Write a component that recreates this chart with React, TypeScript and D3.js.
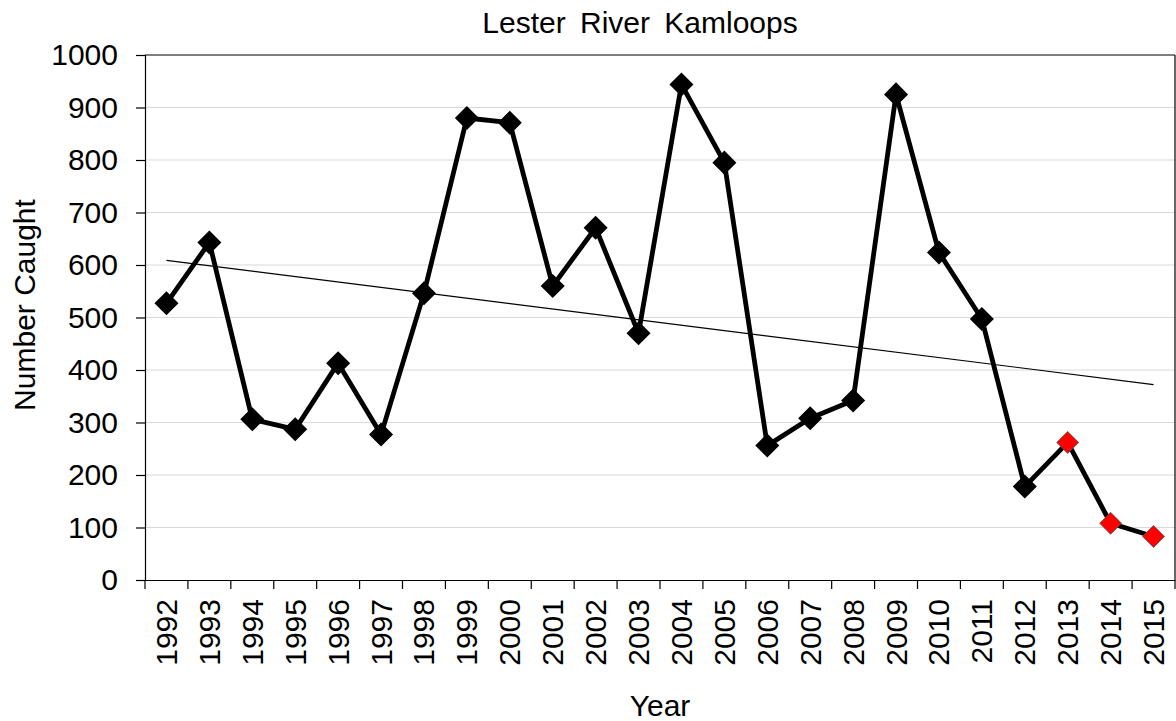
import React, { useEffect, useRef } from "react";
import * as d3 from "d3";

const years: string[] = ["1992","1993","1994","1995","1996","1997","1998","1999","2000","2001","2002","2003","2004","2005","2006","2007","2008","2009","2010","2011","2012","2013","2014","2015"];
const caught: number[] = [527,643,306,287,413,277,546,880,871,560,671,470,944,795,256,308,342,925,624,497,178,262,108,83];
const highlighted: string[] = ["2013","2014","2015"];
const yTicks: number[] = [0,100,200,300,400,500,600,700,800,900,1000];
const title = "Lester River Kamloops";
const xTitle = "Year";
const yTitle = "Number Caught";

const W = 1176, H = 721;
const M = { left: 145, right: 1, top: 55, bottom: 141 };
const FONT = "'Liberation Sans', Arial, sans-serif";
const FS = 30;

export default function App() {
  const ref = useRef<SVGSVGElement>(null);
  useEffect(() => {
    const svg = d3.select(ref.current);
    svg.selectAll("*").remove();
    const x = d3.scaleBand<string>().domain(years).range([M.left, W - M.right]);
    const y = d3.scaleLinear().domain([0, 1000]).range([H - M.bottom, M.top]);
    const cx = (yr: string) => (x(yr) as number) + x.bandwidth() / 2;

    // gridlines
    svg.append("g").selectAll("line").data(yTicks.filter(t => t > 0 && t < 1000)).join("line")
      .attr("x1", M.left).attr("x2", W - M.right)
      .attr("y1", d => y(d)).attr("y2", d => y(d))
      .attr("stroke", "#d9d9d9").attr("stroke-width", 1.2);

    // border top/right
    svg.append("line").attr("x1", M.left).attr("x2", W - M.right).attr("y1", y(1000)).attr("y2", y(1000))
      .attr("stroke", "#000").attr("stroke-width", 1.2);
    svg.append("line").attr("x1", W - M.right).attr("x2", W - M.right).attr("y1", y(1000)).attr("y2", y(0))
      .attr("stroke", "#000").attr("stroke-width", 1.2);

    // y axis
    const yAxis = svg.append("g").attr("transform", `translate(${M.left},0)`)
      .call(d3.axisLeft(y).tickValues(yTicks).tickSize(9).tickPadding(18).tickFormat(d3.format("d")));
    yAxis.select(".domain").attr("stroke", "#000").attr("stroke-width", 1.2);
    yAxis.selectAll(".tick line").attr("stroke", "#000").attr("stroke-width", 1.2);
    yAxis.selectAll(".tick text").attr("font-family", FONT).attr("font-size", FS).attr("fill", "#000");

    // x axis
    const xAxis = svg.append("g").attr("transform", `translate(0,${y(0)})`)
      .call(d3.axisBottom(x).tickSize(0).tickSizeOuter(0));
    xAxis.select(".domain").attr("stroke", "#000").attr("stroke-width", 1.2);
    xAxis.selectAll(".tick text").attr("font-family", FONT).attr("font-size", FS).attr("fill", "#000")
      .attr("text-anchor", "end").attr("dy", "0.35em")
      .attr("transform", "translate(0,19) rotate(-90)").attr("x", 0).attr("y", 0);
    // x tick marks at band boundaries
    const bounds = years.map(yr => x(yr) as number).concat([W - M.right]);
    svg.append("g").selectAll("line").data(bounds).join("line")
      .attr("x1", d => d).attr("x2", d => d).attr("y1", y(0)).attr("y2", y(0) + 9)
      .attr("stroke", "#000").attr("stroke-width", 1.2);

    // trendline (least squares)
    const idx = caught.map((_, i) => i);
    const mx = d3.mean(idx) as number, my = d3.mean(caught) as number;
    const slope = d3.sum(idx, i => (i - mx) * (caught[i] - my)) / d3.sum(idx, i => (i - mx) ** 2);
    const icpt = my - slope * mx;
    svg.append("line")
      .attr("x1", cx(years[0])).attr("y1", y(icpt))
      .attr("x2", cx(years[years.length - 1])).attr("y2", y(icpt + slope * (years.length - 1)))
      .attr("stroke", "#000").attr("stroke-width", 1.2);

    // data line
    const line = d3.line<number>().x((_, i) => cx(years[i])).y(d => y(d));
    svg.append("path").datum(caught).attr("d", line).attr("fill", "none")
      .attr("stroke", "#000").attr("stroke-width", 4.8).attr("stroke-linejoin", "round");

    // markers
    const sym = d3.symbol(d3.symbolSquare, 15.5 * 15.5);
    svg.append("g").selectAll("path").data(caught).join("path")
      .attr("d", sym)
      .attr("transform", (d, i) => `translate(${cx(years[i])},${y(d)}) rotate(45)`)
      .attr("fill", (_, i) => highlighted.includes(years[i]) ? "#ff0000" : "#000")
      .attr("stroke", (_, i) => highlighted.includes(years[i]) ? "#595959" : "#000")
      .attr("stroke-width", (_, i) => highlighted.includes(years[i]) ? 0.8 : 1.5);

    // titles
    svg.append("text").attr("x", 640).attr("y", 33).attr("text-anchor", "middle")
      .attr("font-family", FONT).attr("font-size", 30).attr("word-spacing", 6).text(title);
    svg.append("text").attr("x", (M.left + W - M.right) / 2).attr("y", 716).attr("text-anchor", "middle")
      .attr("font-family", FONT).attr("font-size", FS).text(xTitle);
    svg.append("text").attr("transform", `translate(35,305) rotate(-90)`)
      .attr("text-anchor", "middle").attr("font-family", FONT).attr("font-size", FS).text(yTitle);
  }, []);
  return (
    <svg ref={ref} width={W} height={H} style={{ position: "absolute", left: 0, top: 0, background: "#fff" }} />
  );
}
